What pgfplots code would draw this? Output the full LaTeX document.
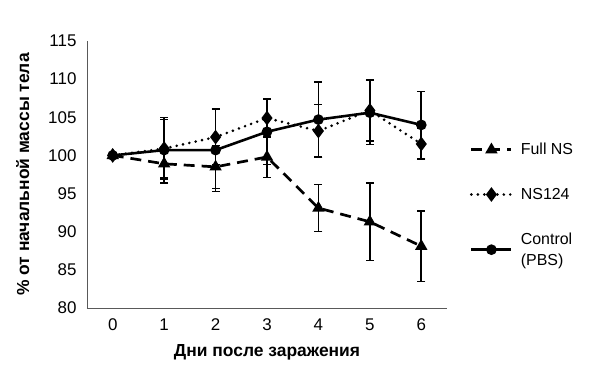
\documentclass[border=0pt]{standalone}
\usepackage{fontspec}
\setmainfont{Liberation Sans}
\usepackage{pgfplots}
\pgfplotsset{compat=1.18}
\begin{document}
\begin{tikzpicture}
\path (-87bp,-60bp) rectangle (513bp,308bp);
\begin{axis}[
  at={(0,0)}, anchor=south west,
  scale only axis, width=360bp, height=267bp,
  xmin=-0.5, xmax=6.5, ymin=80, ymax=115,
  axis x line*=bottom, axis y line*=left,
  axis line style={draw=black!65, line width=0.9pt, -},
  xtick={0,1,2,3,4,5,6}, ytick={80,85,...,115},
  major tick length=0pt,
  tick label style={font=\fontsize{17}{20}\selectfont},
  /pgf/number format/assume math mode=true,
  xticklabel style={yshift=-7bp},
  yticklabel style={xshift=-7bp},
  xlabel={\textbf{Дни после заражения}},
  ylabel={\textbf{\% от начальной массы тела}},
  label style={font=\fontsize{17.5}{20}\selectfont},
  xlabel style={yshift=-7bp},
  ylabel style={yshift=12bp},
  legend style={at={(1.055,0.633)}, anchor=north west, draw=none, fill=none,
    font=\fontsize{16}{19}\selectfont, row sep=28bp, legend cell align=left,
    nodes={inner sep=2pt}},
  legend image code/.code={
    \draw[mark repeat=2,mark phase=2] plot coordinates {(0bp,0bp) (20bp,0bp) (40bp,0bp)};},
  clip=false,
]
\addplot+[black, line width=2.7pt, dash pattern=on 11pt off 7pt, mark=triangle*, mark size=4.5pt,
  mark options={solid, fill=black},
  error bars/.cd, y dir=both, y explicit, error bar style={line width=1.6pt, solid},
  error mark options={rotate=90, mark size=4pt, line width=1.4pt}]
coordinates {
 (0,100.0) +- (0,0.3)
 (1,98.9) +- (0,2.0)
 (2,98.5) +- (0,2.8)
 (3,99.8) +- (0,2.7)
 (4,93.1) +- (0,3.1)
 (5,91.3) +- (0,5.1)
 (6,88.1) +- (0,4.6)
};
\addlegendentry{\hspace{6bp}Full NS}
\addplot+[black, line width=2.9pt, line cap=round, dash pattern=on 0pt off 6.5pt, mark=diamond*, mark size=5pt,
  mark options={solid, fill=black},
  error bars/.cd, y dir=both, y explicit, error bar style={line width=1.6pt, solid, line cap=butt},
  error mark options={rotate=90, mark size=4pt, line width=1.4pt}]
coordinates {
 (0,100.0) +- (0,0.3)
 (1,100.9) +- (0,3.8)
 (2,102.4) +- (0,3.6)
 (3,104.9) +- (0,2.5)
 (4,103.2) +- (0,3.5)
 (5,105.9) +- (0,4.0)
 (6,101.5) +- (0,2.0)
};
\addlegendentry{\hspace{6bp}NS124}
\addplot+[black, line width=2.6pt, solid, mark=*, mark size=4pt,
  mark options={solid, fill=black},
  error bars/.cd, y dir=both, y explicit, error bar style={line width=1.6pt, solid},
  error mark options={rotate=90, mark size=4pt, line width=1.4pt}]
coordinates {
 (0,100.0) +- (0,0.3)
 (1,100.7) +- (0,4.3)
 (2,100.7) +- (0,5.4)
 (3,103.1) +- (0,4.3)
 (4,104.7) +- (0,4.9)
 (5,105.6) +- (0,4.2)
 (6,104.0) +- (0,4.4)
};
\addlegendentry{\hspace{6bp}\shortstack[l]{Control\\[6bp](PBS)}}
\end{axis}
\end{tikzpicture}
\end{document}
